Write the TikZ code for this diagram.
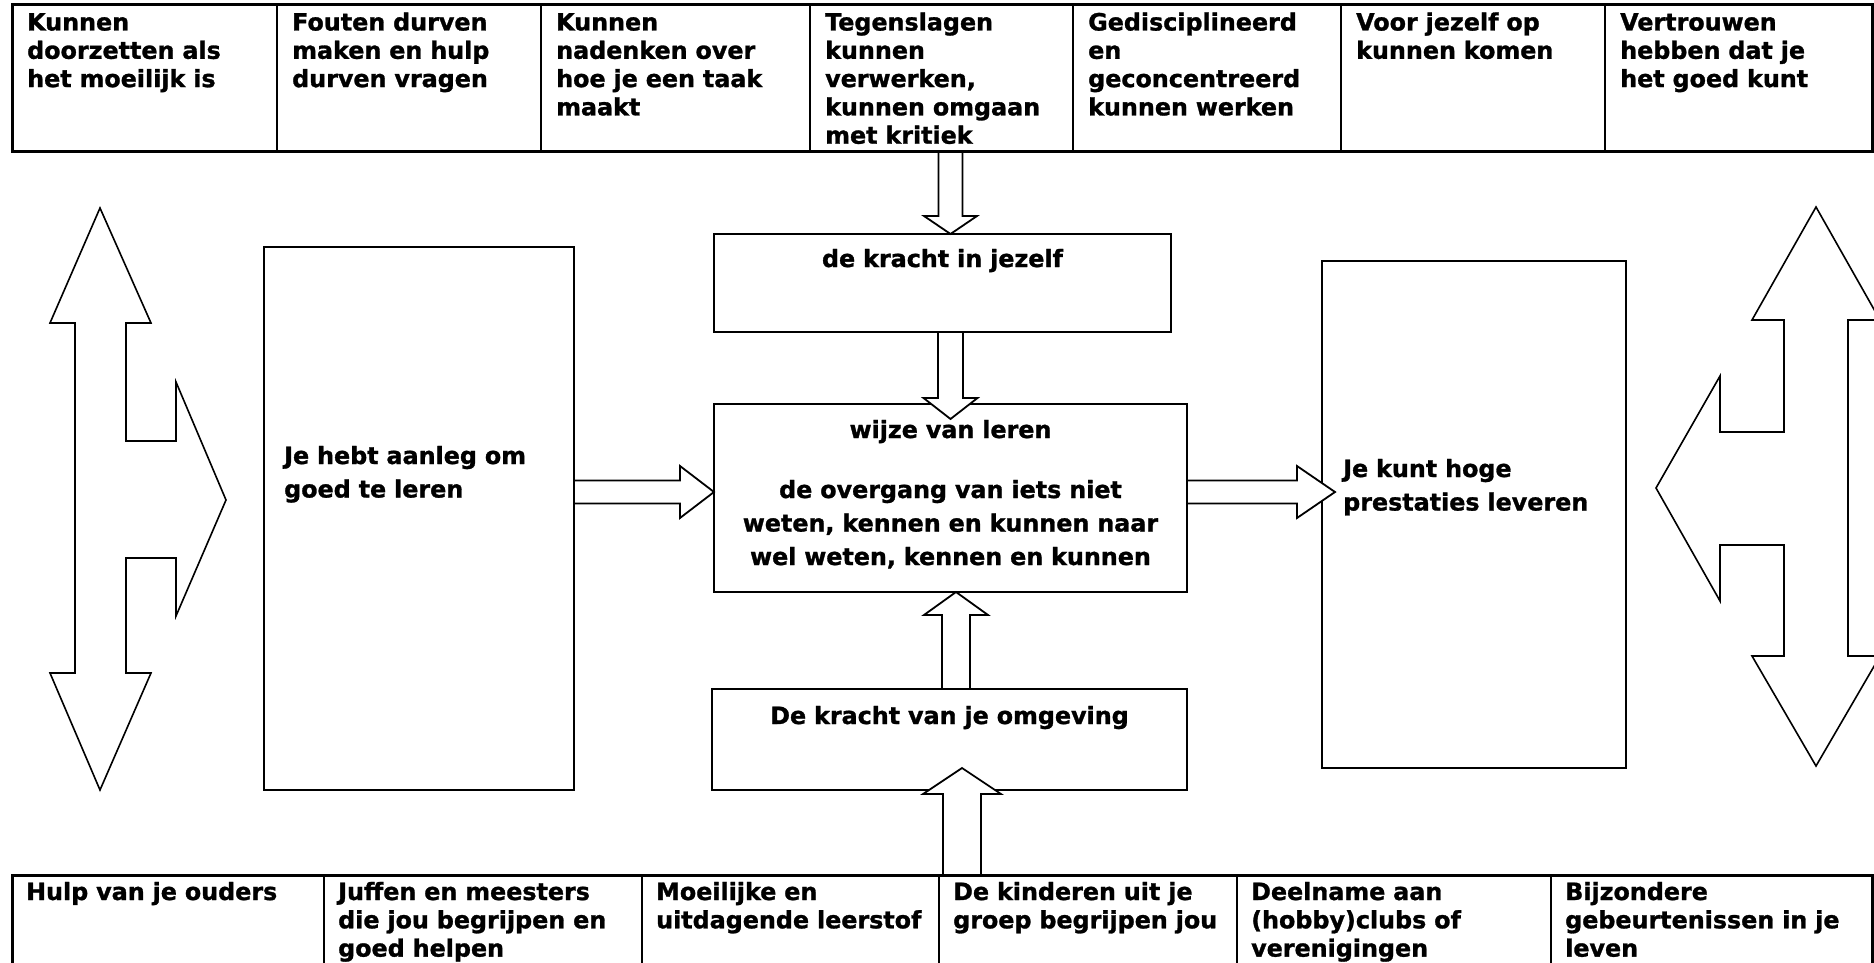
\documentclass[tikz,border=0pt]{standalone}
\usepackage{fontspec}
\setmainfont{DejaVu Sans}[BoldFeatures={FakeBold=1.2}]
\usepackage{tikz}
\usetikzlibrary{calc,positioning}

% block arrow: #1 name, #2 start, #3 tip, #4 half shaft, #5 half head, #6 head length
\newcommand{\blockarrow}[6]{%
  \coordinate (#1s) at #2;
  \coordinate (#1t) at #3;
  \coordinate (#1b) at ($(#1t)!#6!(#1s)$);
  \draw [blockarr] ($(#1s)!#4!90:(#1t)$) -- ($(#1b)!#4!90:(#1t)$) -- ($(#1b)!#5!90:(#1t)$) %
    -- (#1t) -- ($(#1b)!#5!-90:(#1t)$) -- ($(#1b)!#4!-90:(#1t)$) -- ($(#1s)!#4!-90:(#1t)$) -- cycle;
}

\begin{document}
\begin{tikzpicture}[x=1pt, y=-1pt,
    box/.style={draw, line width=2pt, inner sep=0pt, outer sep=0pt},
    tab/.style={draw, line width=3pt, inner sep=0pt, outer sep=0pt},
    blockarr/.style={draw, fill=white, line width=1.8pt, line join=miter},
    sidearr/.style={draw, fill=white, line width=1.6pt, line join=miter},
    txt/.style={font=\fontsize{23.8}{33.5}\selectfont\bfseries, inner sep=0pt, text width=#1},
    cell/.style={font=\fontsize{23.8}{28.3}\selectfont\bfseries, inner sep=0pt, align=left,
      text width=#1, anchor=base west}]
    \useasboundingbox (0,0) rectangle (1874,963);
    \clip (0,0) rectangle (1874,963);

    % Top row of skills
    \node [tab, minimum width=1860pt, minimum height=147pt, anchor=north west] (toptab) at (12,5) {};
    \foreach \x in {277,541,810,1073,1341,1605}
      \draw [line width=2pt] (\x,0 |- toptab.north) -- (\x,0 |- toptab.south);
    \foreach \x/\t [count=\i] in {12/{Kunnen\\doorzetten als\\het moeilijk is},
        277/{Fouten durven\\maken en hulp\\durven vragen},
        541/{Kunnen\\nadenken over\\hoe je een taak\\maakt},
        810/{Tegenslagen\\kunnen\\verwerken,\\kunnen omgaan\\met kritiek},
        1073/{Gedisciplineerd\\en\\geconcentreerd\\kunnen werken},
        1341/{Voor jezelf op\\kunnen komen},
        1605/{Vertrouwen\\hebben dat je\\het goed kunt}}
      \node [cell=245pt] (top\i) at (\x+15,30.5) {\t};

    % Bottom row, cut off by the page
    \node [tab, minimum width=1860pt, minimum height=120pt, anchor=north west] (bottab) at (12,875) {};
    \foreach \x in {324,642,939,1237,1551}
      \draw [line width=2pt] (\x,0 |- bottab.north) -- (\x,0 |- bottab.south);
    \foreach \x/\t [count=\i] in {12/{Hulp van je ouders},
        324/{Juffen en meesters\\die jou begrijpen en\\goed helpen},
        642/{Moeilijke en\\uitdagende leerstof},
        939/{De kinderen uit je\\groep begrijpen jou},
        1237/{Deelname aan\\(hobby)clubs of\\verenigingen},
        1551/{Bijzondere\\gebeurtenissen in je\\leven}}
      \node [cell=300pt] (bot\i) at (\x+14,900) {\t};

    % Boxes in the middle
    \node [box, minimum width=310pt, minimum height=543pt, anchor=north west] (aanleg) at (264,247) {};
    \node [box, minimum width=457pt, minimum height=98pt, anchor=north west] (kracht) at (714,234) {};
    \node [box, minimum width=473pt, minimum height=188pt, anchor=north west] (wijze) at (714,404) {};
    \node [box, minimum width=475pt, minimum height=101pt, anchor=north west] (omgeving) at (712,689) {};
    \node [box, minimum width=304pt, minimum height=507pt, anchor=north west] (prestaties) at (1322,261) {};

    \node [txt=300pt, align=left, anchor=base west] (aanlegtxt) at ($(aanleg.north west)+(20,217)$) %
      {Je hebt aanleg om\\goed te leren};
    \node [txt=440pt, align=center, anchor=base] (krachttxt) at ($(kracht.north)+(0,33)$) %
      {de kracht in jezelf};
    \node [txt=460pt, align=center, anchor=base] (wijzetxt) at ($(wijze.north)+(0,34)$) %
      {wijze van leren\\[26.5pt]de overgang van iets niet\\weten, kennen en kunnen naar\\wel weten, kennen en kunnen};
    \node [txt=460pt, align=center, anchor=base] (omgevingtxt) at ($(omgeving.north)+(0,35)$) %
      {De kracht van je omgeving};
    \node [txt=290pt, align=left, anchor=base west] (prestatiestxt) at ($(prestaties.north west)+(21,216)$) %
      {Je kunt hoge\\prestaties leveren};

    % Block arrows between the boxes
    \coordinate (midrow) at (0,492);
    \coordinate (upcol) at (956,0);
    \coordinate (incol) at (962,0);
    \blockarrow{a}{(wijze.north |- toptab.south)}{(wijze.north |- kracht.north)}{12pt}{26.5pt}{18pt}
    \blockarrow{b}{(wijze.north |- kracht.south)}{($(wijze.north)+(0,15)$)}{12.5pt}{27pt}{21pt}
    \blockarrow{c}{(aanleg.east |- midrow)}{(wijze.west |- midrow)}{11.5pt}{26pt}{34pt}
    \blockarrow{d}{(wijze.east |- midrow)}{($(prestaties.west |- midrow)+(13,0)$)}{11.5pt}{26pt}{38pt}
    \blockarrow{e}{(upcol |- omgeving.north)}{(upcol |- wijze.south)}{14pt}{32pt}{23pt}
    \blockarrow{f}{(incol |- bottab.north)}{($(incol |- omgeving.south)+(0,-22)$)}{19pt}{39pt}{26pt}

    % Side arrows
    \draw [sidearr] (100,208) -- (151,323) -- (126,323) -- (126,441) -- (176,441) -- (176,382) %
      -- (226,500) -- (176,616) -- (176,558) -- (126,558) -- (126,673) -- (151,673) -- (100,790) %
      -- (50,673) -- (75,673) -- (75,323) -- (50,323) -- cycle;
    \draw [sidearr] (1816,207) -- (1880,320) -- (1848,320) -- (1848,656) -- (1880,656) -- (1816,766) %
      -- (1752,656) -- (1784,656) -- (1784,545) -- (1720,545) -- (1720,601) -- (1656,488) %
      -- (1720,376) -- (1720,432) -- (1784,432) -- (1784,320) -- (1752,320) -- cycle;
\end{tikzpicture}
\end{document}
